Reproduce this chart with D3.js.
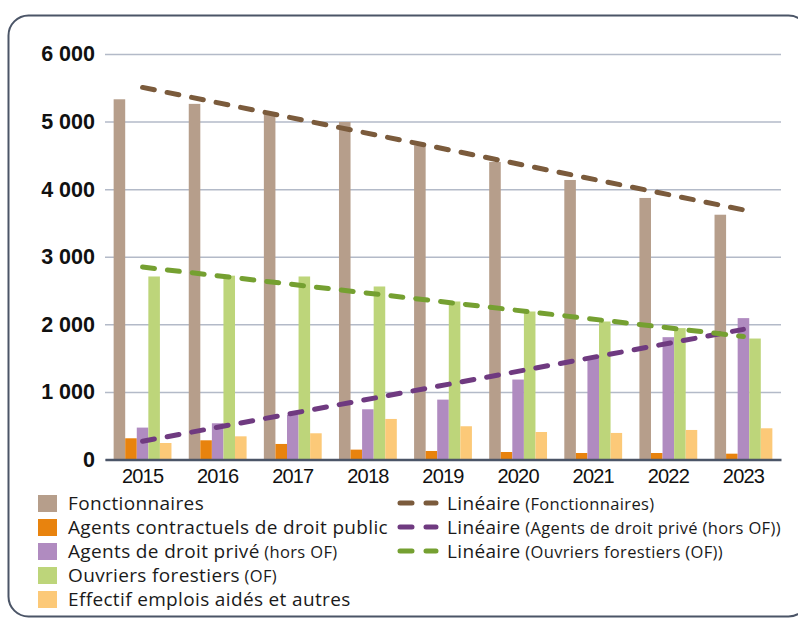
<!DOCTYPE html>
<html>
<head>
<meta charset="utf-8">
<script src="https://cdn.jsdelivr.net/npm/d3@7"></script>
<style>
  body { margin: 0; background: #fff; }
  svg { font-family: "Open Sans", "Noto Sans", sans-serif; }
</style>
</head>
<body>
<div id="chart"></div>
<script>
// data
var years = ["2015","2016","2017","2018","2019","2020","2021","2022","2023"];

var fonctionnaires = [5330, 5262, 5130, 4995, 4649, 4403, 4136, 3870, 3622];
var contractuels   = [314, 284, 230, 146, 126, 111, 96, 96, 86];
var droitPrive     = [472, 536, 660, 743, 886, 1183, 1499, 1810, 2092];
var ouvriers       = [2708, 2720, 2708, 2560, 2338, 2190, 2042, 1944, 1790];
var emploisAides   = [244, 343, 388, 600, 492, 407, 393, 437, 462];

var yTicks = [0, 1000, 2000, 3000, 4000, 5000, 6000];

var series = [
  {name: "Fonctionnaires", sub: "", values: fonctionnaires, color: "#b69e8b"},
  {name: "Agents contractuels de droit public", sub: "", values: contractuels, color: "#e8830e"},
  {name: "Agents de droit privé", sub: "(hors OF)", values: droitPrive, color: "#b08bc0"},
  {name: "Ouvriers forestiers", sub: "(OF)", values: ouvriers, color: "#bdd57a"},
  {name: "Effectif emplois aidés et autres", sub: "", values: emploisAides, color: "#fcc978"}
];

var trends = [
  {sub: "(Fonctionnaires)", values: fonctionnaires, color: "#7b5b3c"},
  {sub: "(Agents de droit privé (hors OF))", values: droitPrive, color: "#6f3a80"},
  {sub: "(Ouvriers forestiers (OF))", values: ouvriers, color: "#75a031"}
];

//////////////////// Set-Up ////////////////////
var W = 798, H = 626;

var svg = d3.select("#chart").append("svg")
  .attr("width", W)
  .attr("height", H);

// rounded frame
svg.append("rect")
  .attr("x", 8.5).attr("y", 15.5)
  .attr("width", 800).attr("height", 601)
  .attr("rx", 20).attr("ry", 20)
  .attr("fill", "none")
  .attr("stroke", "#4b5567")
  .attr("stroke-width", 2);

var x0 = d3.scaleBand()
  .domain(years)
  .range([105, 781])
  .paddingInner(0.23)
  .paddingOuter(0.115);

var x1 = d3.scaleBand()
  .domain(d3.range(series.length))
  .range([0, x0.bandwidth()]);

var y = d3.scaleLinear()
  .domain([0, 6000])
  .range([459.5, 54]);

//////////////////// Grid + y axis ////////////////////
var yAxis = svg.append("g")
  .attr("transform", "translate(105,0)")
  .call(d3.axisLeft(y).tickValues(yTicks).tickSize(-(781 - 105)).tickPadding(10)
    .tickFormat(function(d) { return d3.format(",")(d).replace(",", " "); }));

yAxis.select(".domain").remove();
yAxis.selectAll(".tick line")
  .attr("stroke", "#b3bac8")
  .attr("stroke-width", 1.5);
yAxis.selectAll(".tick text")
  .attr("fill", "#111")
  .style("font-size", "21.5px")
  .style("font-weight", 600);

//////////////////// Bars ////////////////////
var groups = svg.selectAll("g.year")
  .data(years)
  .enter().append("g")
  .attr("class", "year")
  .attr("transform", function(d) { return "translate(" + x0(d) + ",0)"; });

groups.selectAll("rect")
  .data(function(d, i) { return series.map(function(s, k) { return {k: k, v: s.values[i], color: s.color}; }); })
  .enter().append("rect")
  .attr("x", function(d) { return x1(d.k); })
  .attr("width", x1.bandwidth())
  .attr("y", function(d) { return y(d.v); })
  .attr("height", function(d) { return y(0) - y(d.v); })
  .attr("fill", function(d) { return d.color; });

// x axis baseline + labels
var xAxis = svg.append("g")
  .attr("transform", "translate(0," + y(0) + ")")
  .call(d3.axisBottom(x0).tickSize(0).tickPadding(9));
xAxis.select(".domain")
  .attr("stroke", "#4b5567")
  .attr("stroke-width", 2.5);
xAxis.selectAll(".tick text")
  .attr("fill", "#111")
  .style("font-size", "20px")
  .style("letter-spacing", "-0.8px");

//////////////////// Linear trends ////////////////////
function linearFit(vals) {
  var n = vals.length, mx = (n - 1) / 2, my = d3.mean(vals);
  var num = d3.sum(vals, function(v, i) { return (i - mx) * (v - my); });
  var den = d3.sum(vals, function(v, i) { return (i - mx) * (i - mx); });
  var b = num / den;
  return function(i) { return my + b * (i - mx); };
}

var line = d3.line()
  .x(function(d) { return x0(years[d.i]) + x0.bandwidth() / 2; })
  .y(function(d) { return y(d.v); });

trends.forEach(function(t) {
  var f = linearFit(t.values);
  var pts = [{i: 0, v: f(0)}, {i: years.length - 1, v: f(years.length - 1)}];
  svg.append("path")
    .attr("d", line(pts))
    .attr("fill", "none")
    .attr("stroke", t.color)
    .attr("stroke-width", 5)
    .attr("stroke-linecap", "round")
    .attr("stroke-dasharray", "12,13");
});

//////////////////// Legend ////////////////////
var legL = svg.append("g").attr("transform", "translate(38,503)");
series.forEach(function(s, i) {
  var row = legL.append("g").attr("transform", "translate(0," + (i * 24) + ")");
  row.append("rect")
    .attr("x", 0).attr("y", -8)
    .attr("width", 19).attr("height", 17)
    .attr("fill", s.color);
  var t = row.append("text")
    .attr("x", 30).attr("dy", "0.36em")
    .attr("fill", "#1a1a1a")
    .style("font-size", "19px")
    .style("letter-spacing", "0.35px")
    .text(s.name);
  if (s.sub) t.append("tspan").style("font-size", "16.5px").text(" " + s.sub);
});

var legR = svg.append("g").attr("transform", "translate(397,503)");
trends.forEach(function(tr, i) {
  var row = legR.append("g").attr("transform", "translate(0," + (i * 24) + ")");
  row.append("line")
    .attr("x1", 3).attr("x2", 39)
    .attr("stroke", tr.color)
    .attr("stroke-width", 5)
    .attr("stroke-linecap", "round")
    .attr("stroke-dasharray", "12,14");
  var t = row.append("text")
    .attr("x", 50).attr("dy", "0.36em")
    .attr("fill", "#1a1a1a")
    .style("font-size", "19px")
    .style("letter-spacing", "0.35px")
    .text("Linéaire");
  t.append("tspan").style("font-size", "16.5px").text(" " + tr.sub);
});
</script>
</body>
</html>
